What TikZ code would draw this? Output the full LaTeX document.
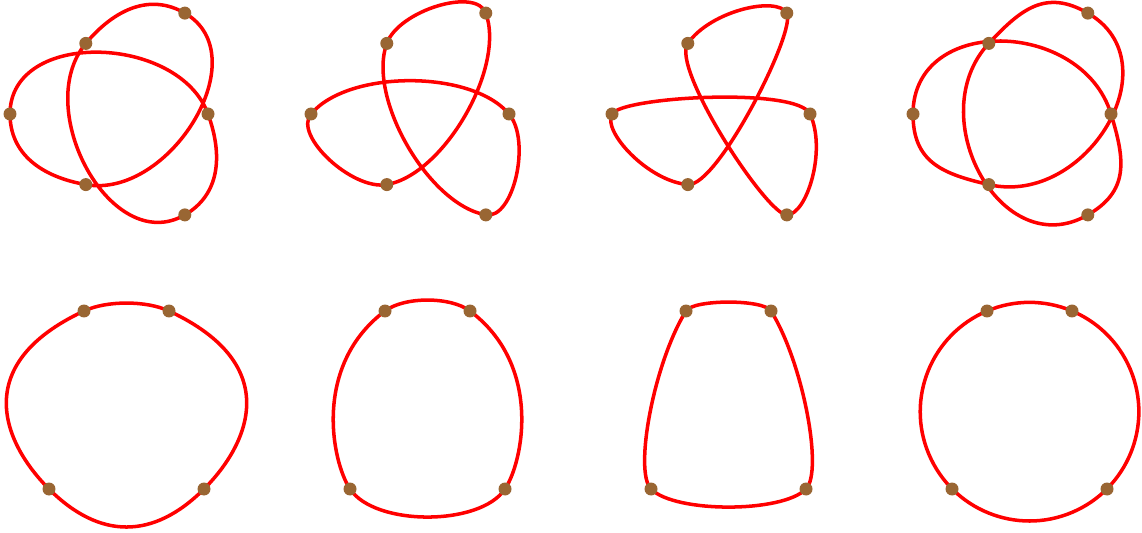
\documentclass[tikz,border=0pt]{standalone}
\usepackage{tikz}
\usepackage{xcolor}
\usetikzlibrary{backgrounds}
\definecolor{CVRed}{HTML}{FF0000}
\definecolor{CVBrown}{HTML}{996633}

\begin{document}
\begin{tikzpicture}[
    x=0.02cm,y=-0.02cm,
    pnt/.style={circle,fill=CVBrown,draw=none,inner sep=0pt,minimum size=0.26cm},
    spline/.style={draw=CVRed,line width=2pt,line join=round,line cap=round}
  ]
    \useasboundingbox (0,0) rectangle (1142,533);

    \node[pnt] (k1a) at (184.8,13.1) {};
    \node[pnt] (k1b) at (85.8,43.4) {};
    \node[pnt] (k1c) at (10,114) {};
    \node[pnt] (k1d) at (85.8,184.6) {};
    \node[pnt] (k1e) at (184.8,214.9) {};
    \node[pnt] (k1f) at (208,114) {};

    \node[pnt] (k2a) at (485.8,13.1) {};
    \node[pnt] (k2b) at (386.8,43.4) {};
    \node[pnt] (k2c) at (311,114) {};
    \node[pnt] (k2d) at (386.8,184.6) {};
    \node[pnt] (k2e) at (485.8,214.9) {};
    \node[pnt] (k2f) at (509,114) {};

    \node[pnt] (k3a) at (786.8,13.1) {};
    \node[pnt] (k3b) at (687.8,43.4) {};
    \node[pnt] (k3c) at (612,114) {};
    \node[pnt] (k3d) at (687.8,184.6) {};
    \node[pnt] (k3e) at (786.8,214.9) {};
    \node[pnt] (k3f) at (810,114) {};

    \node[pnt] (k4a) at (1087.8,13.1) {};
    \node[pnt] (k4b) at (988.8,43.4) {};
    \node[pnt] (k4c) at (913,114) {};
    \node[pnt] (k4d) at (988.8,184.6) {};
    \node[pnt] (k4e) at (1087.8,214.9) {};
    \node[pnt] (k4f) at (1111,114) {};

    \node[pnt] (b1a) at (84,311) {};
    \node[pnt] (b1b) at (169,311) {};
    \node[pnt] (b1c) at (204,489) {};
    \node[pnt] (b1d) at (49,489) {};

    \node[pnt] (b2a) at (385,311) {};
    \node[pnt] (b2b) at (470,311) {};
    \node[pnt] (b2c) at (505,489) {};
    \node[pnt] (b2d) at (350,489) {};

    \node[pnt] (b3a) at (686,311) {};
    \node[pnt] (b3b) at (771,311) {};
    \node[pnt] (b3c) at (806,489) {};
    \node[pnt] (b3d) at (651,489) {};

    \node[pnt] (b4a) at (987,311) {};
    \node[pnt] (b4b) at (1072,311) {};
    \node[pnt] (b4c) at (1107,489) {};
    \node[pnt] (b4d) at (952,489) {};

    \begin{scope}[on background layer]
    \draw[spline] (k1c.center)
      .. controls +(-90:85) and +(250:85) .. (k1f.center)
      .. controls +(70:45) and +(-30:40) .. (k1e.center)
      .. controls +(150:85) and +(130:85) .. (k1b.center)
      .. controls +(310:45) and +(210:40) .. (k1a.center)
      .. controls +(30:85) and +(10:85) .. (k1d.center)
      .. controls +(190:45) and +(90:40) .. (k1c.center);

    \draw[spline] (k2c.center)
      .. controls +(-50:58) and +(230:58) .. (k2f.center)
      .. controls +(50:35) and +(10:28) .. (k2e.center)
      .. controls +(190:58) and +(110:58) .. (k2b.center)
      .. controls +(290:35) and +(250:28) .. (k2a.center)
      .. controls +(70:58) and +(350:58) .. (k2d.center)
      .. controls +(170:35) and +(130:28) .. (k2c.center);

    \draw[spline] (k3c.center)
      .. controls +(-60:20) and +(245:30) .. (k3f.center)
      .. controls +(65:40) and +(0:20) .. (k3e.center)
      .. controls +(180:20) and +(125:30) .. (k3b.center)
      .. controls +(305:40) and +(240:20) .. (k3a.center)
      .. controls +(60:20) and +(5:30) .. (k3d.center)
      .. controls +(185:40) and +(120:20) .. (k3c.center);

    \draw[spline] (k4c.center)
      .. controls +(-90:99.5) and +(253:99.5) .. (k4f.center)
      .. controls +(73:48) and +(-30:48) .. (k4e.center)
      .. controls +(150:99.5) and +(133:99.5) .. (k4b.center)
      .. controls +(313:48) and +(210:48) .. (k4a.center)
      .. controls +(30:99.5) and +(13:99.5) .. (k4d.center)
      .. controls +(193:48) and +(90:48) .. (k4c.center);

    \draw[spline] (b1a.center)
      .. controls +(22.7,-10.6) and +(-22.7,-10.6) .. (b1b.center)
      .. controls +(116,54.1) and +(44.5,-44.5) .. (b1c.center)
      .. controls +(-50.7,50.7) and +(50.7,50.7) .. (b1d.center)
      .. controls +(-44.5,-44.5) and +(-116,54.1) .. (b1a.center);

    \draw[spline] (b2a.center)
      .. controls +(19.5,-14.6) and +(-19.5,-14.6) .. (b2b.center)
      .. controls +(72.5,54.4) and +(18.2,-27.4) .. (b2c.center)
      .. controls +(-24.8,37.4) and +(24.8,37.4) .. (b2d.center)
      .. controls +(-18.2,-27.4) and +(-72.5,54.4) .. (b2a.center);

    \draw[spline] (b3a.center)
      .. controls +(7.4,-11.9) and +(-7.4,-11.9) .. (b3b.center)
      .. controls +(31.8,51) and +(17.5,-17.8) .. (b3c.center)
      .. controls +(-23.8,24.1) and +(23.8,24.1) .. (b3d.center)
      .. controls +(-17.5,-17.8) and +(-31.8,51) .. (b3a.center);

    \draw[spline] (b4a.center) arc[start angle=247.1,end angle=607.1,radius=109.3];
    \end{scope}
  \end{tikzpicture}
\end{document}
